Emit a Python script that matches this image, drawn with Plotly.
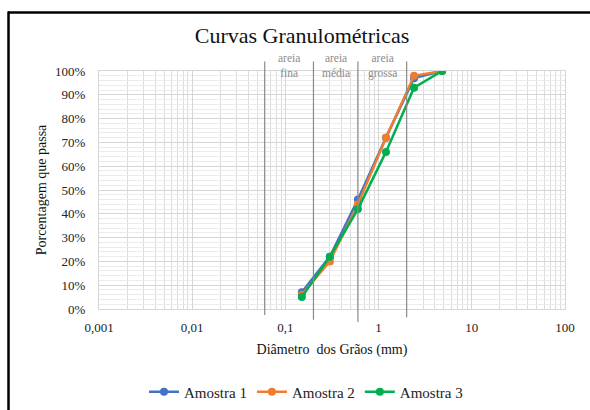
import math
import plotly.graph_objects as go

# ---- data ----
diametros = [0.15, 0.3, 0.6, 1.2, 2.4, 4.8]
amostra_1 = [7, 22, 46, 72, 97, 100]
amostra_2 = [6, 20, 44, 72, 98, 100]
amostra_3 = [5, 22, 42, 66, 93, 100]
series_names = ["Amostra 1", "Amostra 2", "Amostra 3"]
series_colors = ["#4472C4", "#ED7D31", "#00B050"]

limites_areia = [0.06, 0.2, 0.6, 2.0]
rotulos_areia = ["areia<br>fina", "areia<br>média", "areia<br>grossa"]

x_tickvals = [0.001, 0.01, 0.1, 1, 10, 100]
x_ticktext = ["0,001", "0,01", "0,1", "1", "10", "100"]
y_tickvals = list(range(0, 101, 10))
y_ticktext = [f"{v}%" for v in y_tickvals]

SERIF = '"Liberation Serif", "Times New Roman", serif'

L, T, PW, PH = 99, 71, 466, 238  # plot area in pixels

fig = go.Figure()
for name, vals, col in zip(series_names, [amostra_1, amostra_2, amostra_3], series_colors):
    fig.add_trace(go.Scatter(
        x=diametros, y=vals, name=name, mode="lines+markers",
        line=dict(color=col, width=2.5),
        marker=dict(color=col, size=8, symbol="circle"),
    ))

minor_x = [m * 10 ** e for e in range(-3, 2) for m in range(2, 10)]

fig.update_layout(
    width=590, height=410,
    margin=dict(l=L, r=590 - L - PW, t=T, b=410 - T - PH, autoexpand=False),
    paper_bgcolor="white", plot_bgcolor="white",
    font=dict(family=SERIF, size=13, color="#222222"),
    title=dict(text="Curvas Granulométricas", x=302 / 590, xanchor="center",
               y=1 - 35 / 410, yanchor="middle",
               font=dict(family=SERIF, size=22, color="#111111")),
    showlegend=True,
    legend=dict(orientation="h", x=(306 - L) / PW, xanchor="center",
                y=(T + PH - 392) / PH, yanchor="middle",
                font=dict(family=SERIF, size=15, color="#222222"),
                itemwidth=30, traceorder="normal"),
    xaxis=dict(
        type="log", range=[-3, 2],
        tickmode="array", tickvals=x_tickvals, ticktext=x_ticktext,
        ticks="outside", ticklen=6, tickcolor="rgba(0,0,0,0)",
        showgrid=True, gridcolor="#d6d6d6", gridwidth=1,
        minor=dict(tickmode="array", tickvals=minor_x, showgrid=True,
                   gridcolor="#dcdcdc", gridwidth=1, ticks=""),
        showline=True, linecolor="#d6d6d6", linewidth=1, mirror=True,
        zeroline=False,
        tickfont=dict(family=SERIF, size=13, color="#222222"),
        title=dict(text="Diâmetro  dos Grãos (mm)", standoff=10,
                   font=dict(family=SERIF, size=14, color="#111111")),
    ),
    yaxis=dict(
        range=[0, 100],
        tickmode="array", tickvals=y_tickvals, ticktext=y_ticktext,
        ticks="outside", ticklen=10, tickcolor="rgba(0,0,0,0)",
        showgrid=True, gridcolor="#d6d6d6", gridwidth=1,
        minor=dict(dtick=2, showgrid=True, gridcolor="#ebebeb", gridwidth=1, ticks=""),
        showline=True, linecolor="#d6d6d6", linewidth=1, mirror=True,
        zeroline=False,
        tickfont=dict(family=SERIF, size=13, color="#222222"),
        title=dict(text="Porcentagem que passa", standoff=5,
                   font=dict(family=SERIF, size=14, color="#111111")),
    ),
)

# sand class boundary lines
line_ext = [(-0.025, 1.04), (-0.045, 1.04), (-0.055, 1.04), (-0.035, 1.04)]
for lim, (y0, y1) in zip(limites_areia, line_ext):
    fig.add_shape(type="line", xref="x", yref="paper", x0=lim, x1=lim, y0=y0, y1=y1,
                  line=dict(color="#8a8a8a", width=1.2), layer="above")

# sand class labels centred between boundaries
for a, b, txt in zip(limites_areia[:-1], limites_areia[1:], rotulos_areia):
    fig.add_annotation(x=(math.log10(a) + math.log10(b)) / 2, y=1.022, xref="x", yref="paper",
                       text=txt, showarrow=False, xanchor="center", yanchor="middle",
                       font=dict(family=SERIF, size=11.5, color="#8c8c8c"))

# chart frame (left and top edges)
fig.add_shape(type="line", xref="paper", yref="paper", x0=(8 - L) / PW, x1=(592 - L) / PW,
              y0=(T + PH - 12.5) / PH, y1=(T + PH - 12.5) / PH, line=dict(color="black", width=2.5))
fig.add_shape(type="line", xref="paper", yref="paper", x0=(8.5 - L) / PW, x1=(8.5 - L) / PW,
              y0=(T + PH - 412) / PH, y1=(T + PH - 11.5) / PH, line=dict(color="black", width=2.5))

fig.write_html("out.html", config={"displayModeBar": False},
               post_script="document.body.style.margin='0';document.body.style.overflow='hidden';")
